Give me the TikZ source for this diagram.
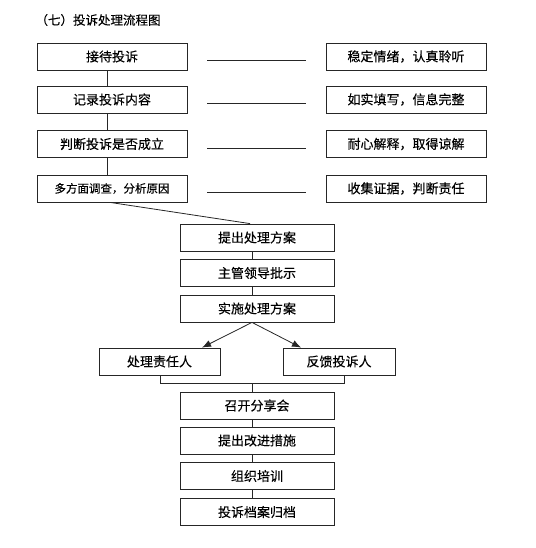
\documentclass[tikz,border=0pt]{standalone}
\usepackage{fontspec}
\newfontfamily\cjk{Noto Sans CJK SC}[FakeBold=0.2]
\usetikzlibrary{arrows.meta}
\begin{document}
\begin{tikzpicture}[x=1pt,y=-1pt,
  box/.style={draw=black!85,line width=0.8pt,inner sep=0pt,minimum height=27pt,
    font=\cjk\fontsize{13}{15}\selectfont,text=black},
  lbox/.style={box,minimum width=150pt},
  rbox/.style={box,minimum width=160pt},
  mbox/.style={box,minimum width=154pt},
  conn/.style={draw=black!85,line width=0.8pt},
  arr/.style={conn,-{Latex[length=9pt,width=7pt]}}]
\useasboundingbox (0,0) rectangle (535,548);
\node[anchor=west,font=\cjk\fontsize{12.5}{15}\selectfont,text=black] (title) at (32,20) {（七）投诉处理流程图};
% left column
\node[lbox] (b1) at (112,56.5) {接待投诉};
\node[lbox] (b2) at (112,99.5) {记录投诉内容};
\node[lbox] (b3) at (112,144) {判断投诉是否成立};
\node[lbox,font=\cjk\fontsize{11.5}{14}\selectfont] (b4) at (112,188.5) {多方面调查，分析原因};
% right column
\node[rbox] (r1) at (406,56.5) {稳定情绪，认真聆听};
\node[rbox] (r2) at (406,99.5) {如实填写，信息完整};
\node[rbox] (r3) at (406,144) {耐心解释，取得谅解};
\node[rbox] (r4) at (406,188.5) {收集证据，判断责任};
% middle column
\node[mbox] (m1) at (257,237.5) {提出处理方案};
\node[mbox] (m2) at (257,273) {主管领导批示};
\node[mbox] (m3) at (257,308.5) {实施处理方案};
\node[box,minimum width=121pt] (p1) at (159.5,361.5) {处理责任人};
\node[box,minimum width=112pt] (p2) at (339,361.5) {反馈投诉人};
\node[mbox] (s1) at (257,405.5) {召开分享会};
\node[mbox] (s2) at (257,440.5) {提出改进措施};
\node[mbox] (s3) at (257,476) {组织培训};
\node[mbox] (s4) at (257,512) {投诉档案归档};
% horizontal lines
\foreach \i in {1,2,3,4}{
  \draw[conn] ([xshift=20pt,yshift=-4pt]b\i.east) -- ([xshift=-20pt,yshift=-4pt]r\i.west);
}
% left vertical connectors
\draw[conn] ([xshift=-5pt]b1.south) -- ([xshift=-5pt]b2.north);
\draw[conn] ([xshift=-5pt]b2.south) -- ([xshift=-5pt]b3.north);
\draw[conn] ([xshift=-5pt]b3.south) -- ([xshift=-5pt]b4.north);
\draw[conn] ([xshift=-2pt]b4.south) -- ([xshift=-7pt]m1.north);
% middle
\draw[conn] ([xshift=-5pt]m1.south) -- ([xshift=-5pt]m2.north);
\draw[conn] ([xshift=-5pt]m2.south) -- ([xshift=-5pt]m3.north);
\draw[arr] ([xshift=-5pt]m3.south) -- ([xshift=42.5pt]p1.north);
\draw[arr] ([xshift=-5pt]m3.south) -- ([xshift=-38pt]p2.north);
\coordinate (jl) at (160,383);
\coordinate (jr) at (344,383);
\coordinate (jm) at (252,383);
\draw[conn] ([xshift=0.5pt]p1.south) -- (jl) -- (jr) -- ([xshift=5pt]p2.south);
\draw[conn] (jm) -- ([xshift=-5pt]s1.north);
\draw[conn] ([xshift=-5pt]s1.south) -- ([xshift=-5pt]s2.north);
\draw[conn] ([xshift=-5pt]s2.south) -- ([xshift=-5pt]s3.north);
\draw[conn] ([xshift=-5pt]s3.south) -- ([xshift=-5pt]s4.north);
\end{tikzpicture}
\end{document}
